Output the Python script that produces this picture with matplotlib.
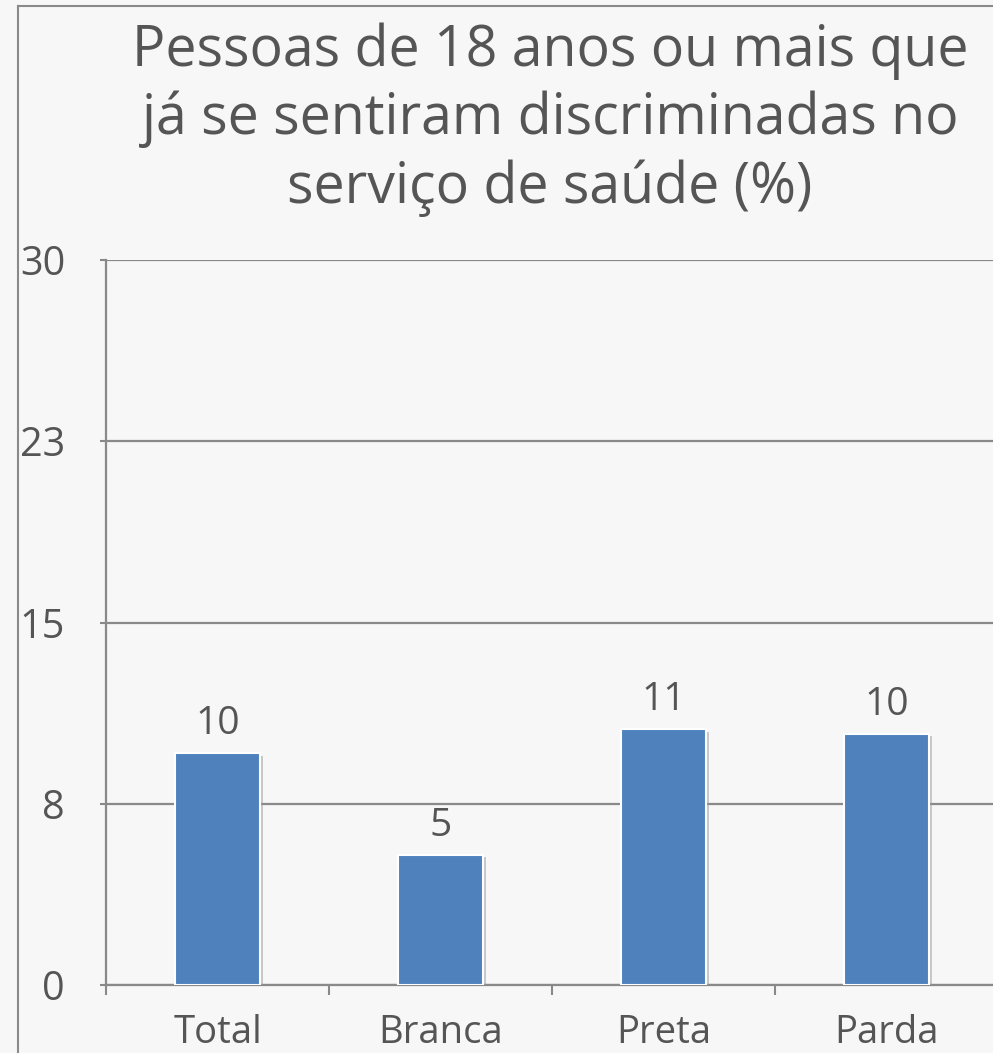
import matplotlib
matplotlib.use("Agg")
import matplotlib.pyplot as plt
import matplotlib.patheffects as pe
from matplotlib.lines import Line2D

categories = ["Total", "Branca", "Preta", "Parda"]
values = [9.6, 5.4, 10.6, 10.4]
value_labels = ["10", "5", "11", "10"]
ytick_values = [0, 7.5, 15, 22.5, 30]
ytick_labels = ["0", "8", "15", "23", "30"]
title = "Pessoas de 18 anos ou mais que\njá se sentiram discriminadas no\nserviço de saúde (%)"

W, H = 993, 1053
bg = "#f7f7f7"
txt = "#555555"
grid = "#898989"
bar_c = "#4f81bd"

plt.rcParams["font.family"] = ["Open Sans", "DejaVu Sans"]
fig = plt.figure(figsize=(W / 100, H / 100), dpi=100, facecolor=bg)

left, right, bottom, top = 106, 993, 985, 260
ax = fig.add_axes([left / W, 1 - bottom / H, (right - left) / W, (bottom - top) / H])
ax.set_facecolor(bg)

x = list(range(len(categories)))
bars = ax.bar(x, values, width=0.38, color=bar_c, edgecolor="white", linewidth=1.5, zorder=3,
              path_effects=[pe.SimplePatchShadow(offset=(2, -2), shadow_rgbFace="#999999", alpha=0.5), pe.Normal()])

for xi, v, lab in zip(x, values, value_labels):
    ax.annotate(lab, (xi, v), xytext=(0, 7), textcoords="offset points", ha="center", va="bottom",
                fontsize=28, color=txt)

ax.set_ylim(0, 30)
ax.set_xlim(-0.5, -0.5 + (right - left) / 223)
ax.set_yticks(ytick_values)
ax.set_yticklabels(ytick_labels)
ax.set_xticks(x)
ax.set_xticklabels(categories)
ax.set_xticks([-0.5, 0.5, 1.5, 2.5], minor=True)

ax.grid(axis="y", color=grid, linewidth=1.6, zorder=0)
ax.set_axisbelow(True)
for s in ["top", "right"]:
    ax.spines[s].set_visible(False)
for s in ["left", "bottom"]:
    ax.spines[s].set_color(grid)
    ax.spines[s].set_linewidth(1.6)

ax.tick_params(axis="y", length=4.5, width=1.5, color=grid, pad=25, labelsize=28.5, labelcolor=txt)
ax.tick_params(axis="x", which="major", length=0, pad=21, labelsize=27.5, labelcolor=txt)
ax.tick_params(axis="x", which="minor", length=7, width=1.5, color=grid, direction="out")

fig.text(550 / W, 1 - 22 / H, title, ha="center", va="top", fontsize=40, color=txt, linespacing=1.26)

# outer frame
fig.add_artist(Line2D([18 / W, 18 / W], [0, 1 - 6 / H], color="#8a8a8a", linewidth=1.5, transform=fig.transFigure))
fig.add_artist(Line2D([18 / W, 1], [1 - 6 / H, 1 - 6 / H], color="#8a8a8a", linewidth=1.5, transform=fig.transFigure))

fig.savefig("out.png", dpi=100, facecolor=bg)
